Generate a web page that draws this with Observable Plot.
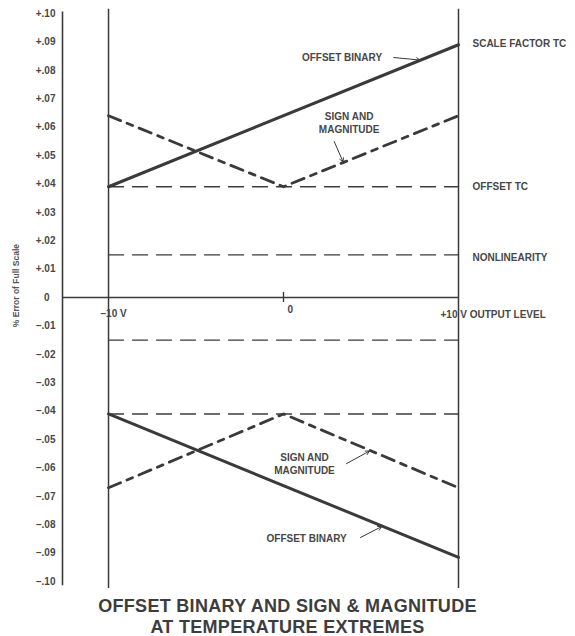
<!DOCTYPE html>
<html>
<head>
<meta charset="utf-8">
<script src="https://cdn.jsdelivr.net/npm/d3@7"></script>
<script src="https://cdn.jsdelivr.net/npm/@observablehq/plot@0.6"></script>
<style>
  body { margin: 0; background: #fff; }
  #chart { width: 575px; }
  .title {
    font-family: "Liberation Sans", Arial, Helvetica, sans-serif;
    font-weight: bold; font-size: 18px; line-height: 21px; letter-spacing: 0.3px;
    color: #3d3d3d; text-align: center; width: 575px; margin-top: 2px;
  }
  g[aria-label="annotation"] text { letter-spacing: 0.6px; }
  g[aria-label="side label"] text { letter-spacing: 0.2px; }
</style>
</head>
<body>
<div id="chart"></div>
<script>
// ---- data ----
const xEnds = [-10, 10];
const xBreak = [-10, 0, 10];
const offsetBinaryUpper = [0.039, 0.089];
const signMagUpper = [0.064, 0.039, 0.064];
const offsetTCUpper = [0.039, 0.039];
const nonlinearityUpper = [0.015, 0.015];
const nonlinearityLower = [-0.015, -0.015];
const offsetTCLower = [-0.041, -0.041];
const offsetBinaryLower = [-0.041, -0.0915];
const signMagLower = [-0.067, -0.041, -0.067];

const yTicks = [0.10, 0.09, 0.08, 0.07, 0.06, 0.05, 0.04, 0.03, 0.02, 0.01, 0,
  -0.01, -0.02, -0.03, -0.04, -0.05, -0.06, -0.07, -0.08, -0.09, -0.10];
const yTickLabels = ["+.10", "+.09", "+.08", "+.07", "+.06", "+.05", "+.04", "+.03", "+.02", "+.01", "0",
  "–.01", "–.02", "–.03", "–.04", "–.05", "–.06", "–.07", "–.08", "–.09", "–.10"];
const xLabelLeft = "–10 V";
const xLabelMid = "0";
const xLabelRight = "+10 V OUTPUT LEVEL";
const rightLabels = ["SCALE FACTOR TC", "OFFSET TC", "NONLINEARITY"];
const rightLabelY = [0.0895, 0.039, 0.014];
const yAxisTitle = "% Error of Full Scale";
const xAxisMin = -12.63;

// annotations (data coordinates)
const notesStart = [
  {text: "OFFSET BINARY", x: 1.05, y: 0.0845},
  {text: "OFFSET BINARY", x: -0.97, y: -0.0849}
];
const notesMiddle = [
  {text: "SIGN AND\nMAGNITUDE", x: 3.75, y: 0.0616},
  {text: "SIGN AND\nMAGNITUDE", x: 1.2, y: -0.0585}
];
const arrows = [
  {x1: 6.3, y1: 0.0845, x2: 7.8, y2: 0.0836},
  {x1: 2.9, y1: 0.0549, x2: 3.4, y2: 0.0478},
  {x1: 3.6, y1: -0.0585, x2: 4.9, y2: -0.0541},
  {x1: 4.4, y1: -0.0845, x2: 5.6, y2: -0.0807}
];

const toPts = (xs, ys) => xs.map((x, i) => ({x, y: ys[i]}));
const ink = "#3a3a3a";
const txt = "#474747";
const font = "'Liberation Sans', Arial, Helvetica, sans-serif";
const lab = {fontSize: 10, fontWeight: "bold", fill: txt};
const tickIdx = yTicks.map((d, i) => i);
const nonZeroIdx = tickIdx.filter(i => yTicks[i] !== 0);
const zeroIdx = tickIdx.filter(i => yTicks[i] === 0);

const chart = Plot.plot({
  width: 575,
  height: 594,
  marginLeft: 62,
  marginRight: 117,
  marginTop: 13,
  marginBottom: 13,
  style: {fontFamily: font, background: "transparent", color: ink},
  x: {domain: [xAxisMin, 10], axis: null},
  y: {domain: [-0.1, 0.1], axis: null},
  marks: [
    // frame lines
    Plot.ruleX([xAxisMin], {y1: -0.1015, y2: 0.1005, stroke: ink, strokeWidth: 1.6}),
    Plot.ruleX([-10, 10], {y1: -0.1025, y2: 0.1015, stroke: ink, strokeWidth: 1.5}),
    Plot.ruleY([0], {x1: xAxisMin, x2: 10, stroke: ink, strokeWidth: 1.3}),
    Plot.ruleX([0], {y1: -0.0018, y2: 0.0018, stroke: ink, strokeWidth: 1.4}),
    // y tick labels
    Plot.text(nonZeroIdx, {x: xAxisMin, y: i => yTicks[i], text: i => yTickLabels[i], dx: -7, textAnchor: "end",
      fontSize: 10, fontWeight: "bold", fill: txt}),
    Plot.text(zeroIdx, {x: xAxisMin, y: i => yTicks[i], text: i => yTickLabels[i], dx: -13, textAnchor: "end",
      fontSize: 10, fontWeight: "bold", fill: txt}),
    Plot.text([yAxisTitle], {frameAnchor: "left", y: 0.0042, dx: -46, rotate: -90, textAnchor: "middle",
      fontSize: 8.5, fontWeight: "bold", fill: "#555"}),
    // x labels
    Plot.text([xLabelLeft], {x: -10, y: 0, dx: -8, dy: 16, textAnchor: "start", ...lab}),
    Plot.text([xLabelMid], {x: 0, y: 0, dx: 4, dy: 12, textAnchor: "start", ...lab}),
    Plot.text([xLabelRight], {x: 10, y: 0, dx: -18, dy: 17, textAnchor: "start", ...lab}),
    // right labels
    Plot.text(rightLabels, {x: 10, y: (d, i) => rightLabelY[i], text: d => d, dx: 14, textAnchor: "start",
      ariaLabel: "side label", ...lab}),
    // thin dashed error bands
    Plot.line(toPts(xEnds, offsetTCUpper), {x: "x", y: "y", stroke: ink, strokeWidth: 1.4, strokeDasharray: "15,9"}),
    Plot.line(toPts(xEnds, nonlinearityUpper), {x: "x", y: "y", stroke: ink, strokeWidth: 1.4, strokeDasharray: "15,9"}),
    Plot.line(toPts(xEnds, nonlinearityLower), {x: "x", y: "y", stroke: ink, strokeWidth: 1.4, strokeDasharray: "15,9"}),
    Plot.line(toPts(xEnds, offsetTCLower), {x: "x", y: "y", stroke: ink, strokeWidth: 1.4, strokeDasharray: "15,9"}),
    // sign & magnitude (heavy dashed)
    Plot.line(toPts(xBreak, signMagUpper), {x: "x", y: "y", stroke: ink, strokeWidth: 2.8, strokeDasharray: "13,7,6,7"}),
    Plot.line(toPts(xBreak, signMagLower), {x: "x", y: "y", stroke: ink, strokeWidth: 2.8, strokeDasharray: "13,7,6,7"}),
    // offset binary (heavy solid)
    Plot.line(toPts(xEnds, offsetBinaryUpper), {x: "x", y: "y", stroke: ink, strokeWidth: 3}),
    Plot.line(toPts(xEnds, offsetBinaryLower), {x: "x", y: "y", stroke: ink, strokeWidth: 3}),
    // annotations
    Plot.text(notesStart, {x: "x", y: "y", text: "text", textAnchor: "start", ariaLabel: "annotation", ...lab}),
    Plot.text(notesMiddle, {x: "x", y: "y", text: "text", textAnchor: "middle", lineHeight: 1.25,
      ariaLabel: "annotation", ...lab}),
    Plot.arrow(arrows, {x1: "x1", y1: "y1", x2: "x2", y2: "y2", stroke: ink, strokeWidth: 1, headLength: 6})
  ]
});
document.getElementById("chart").appendChild(chart);
const t = document.createElement("div");
t.className = "title";
t.innerHTML = "OFFSET BINARY AND SIGN &amp; MAGNITUDE<br>AT TEMPERATURE EXTREMES";
document.body.appendChild(t);
</script>
</body>
</html>
